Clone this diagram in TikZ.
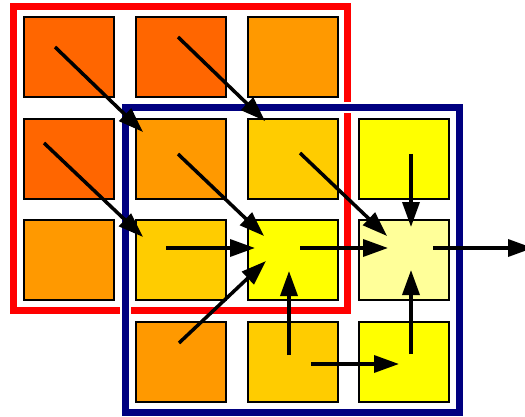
\documentclass[tikz,border=0pt]{standalone}
\usetikzlibrary{arrows.meta}
\definecolor{cA}{HTML}{FF6600}
\definecolor{cB}{HTML}{FF9900}
\definecolor{cC}{HTML}{FFCC00}
\definecolor{cD}{HTML}{FFFF00}
\definecolor{cE}{HTML}{FFFF99}
\definecolor{frameblue}{HTML}{000080}
\begin{document}
\begin{tikzpicture}[x=1pt,y=-1pt,
  cell/.style={draw=black,line width=2pt,minimum width=90pt,minimum height=80pt,inner sep=0pt},
  arr/.style={line width=3.5pt,-{Triangle[length=25pt,width=17pt]}},
  redframe/.style={draw=red,line width=7pt},
  blueframe/.style={draw=frameblue,line width=7pt},
  casing/.style={draw=white,line width=11pt}]
\useasboundingbox (0,0) rectangle (525,417);
% cells
\node[cell,fill=cA] (n11) at (69,57) {};
\node[cell,fill=cA] (n21) at (181,57) {};
\node[cell,fill=cB] (n31) at (292.5,57) {};
\node[cell,fill=cA] (n12) at (69,159) {};
\node[cell,fill=cB] (n22) at (181,159) {};
\node[cell,fill=cC] (n32) at (292.5,159) {};
\node[cell,fill=cD] (n42) at (403.5,159) {};
\node[cell,fill=cB] (n13) at (69,260) {};
\node[cell,fill=cC] (n23) at (181,260) {};
\node[cell,fill=cD] (n33) at (292.5,260) {};
\node[cell,fill=cE] (n43) at (403.5,260) {};
\node[cell,fill=cB] (n24) at (181,362) {};
\node[cell,fill=cC] (n34) at (292.5,362) {};
\node[cell,fill=cD] (n44) at (403.5,362) {};
% frames
\draw[redframe] (13,6.5) rectangle (347,310);
\draw[casing] (125,108) rectangle (459,412);
\draw[blueframe] (125,108) rectangle (459,412);
% arrow end points
\coordinate (s1) at (55,47);   \coordinate (t1) at (143,132);
\coordinate (s2) at (178,37);  \coordinate (t2) at (265,121);
\coordinate (s3) at (44,143);  \coordinate (t3) at (143,237);
\coordinate (s4) at (178,154); \coordinate (t4) at (264,236);
\coordinate (s5) at (300,153); \coordinate (t5) at (387,236);
\coordinate (s6) at (411,154); \coordinate (t6) at (411,227);
\coordinate (s7) at (166,248); \coordinate (t7) at (255,248);
\coordinate (s8) at (179,343); \coordinate (t8) at (266,261);
\coordinate (s9) at (300,248); \coordinate (t9) at (388,248);
\coordinate (s10) at (289,355); \coordinate (t10) at (289,271);
\coordinate (s11) at (311,364); \coordinate (t11) at (399,364);
\coordinate (s12) at (411,354); \coordinate (t12) at (411,270);
\coordinate (s13) at (433,248); \coordinate (t13) at (533,248);
\foreach \i in {1,...,13} { \draw[arr] (s\i) -- (t\i); }
\end{tikzpicture}
\end{document}
